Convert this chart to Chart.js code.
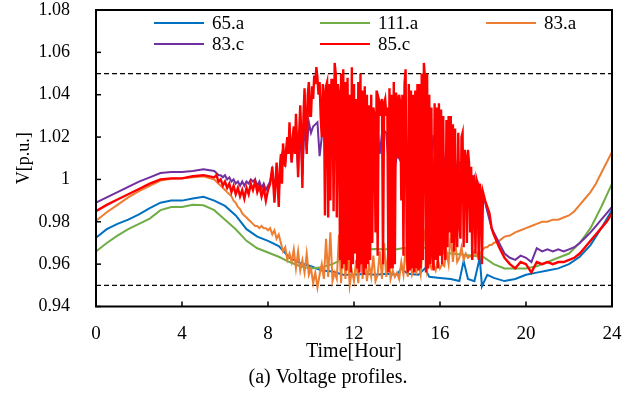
<!DOCTYPE html>
<html>
<head>
<meta charset="utf-8">
<script src="https://cdn.jsdelivr.net/npm/chart.js@4.4.0/dist/chart.umd.min.js"></script>
<style>
  html, body { margin: 0; padding: 0; background: #fff; }
  #wrap { width: 639px; height: 393px; }
</style>
</head>
<body>
<div id="wrap"><canvas id="voltChart" width="639" height="393"></canvas></div>
<script>
// time grids: coarse at night, finer while the PV output fluctuates
function range(start, count, step) {
  return Array.from({ length: count }, (_, i) => +(start + i * step).toFixed(2));
}
const tAll = [...range(0, 11, 0.5), ...range(5.5, 130, 0.1), ...range(18.5, 23, 0.25)];
const tRed = [...range(0, 11, 0.5), ...range(5.5, 30, 0.1), ...range(8.5, 190, 0.05),
  ...range(18.0, 5, 0.1), ...range(18.5, 23, 0.25)];

// bus 85.c (red)
const bus85c = [
  0.985, 0.988, 0.9905, 0.993, 0.9955, 0.998, 1.000, 1.0005, 1.0005, 1.0015, 1.002,
  // 5.5 - 8.4
  1.001, 1.002, 0.999, 1.000, 0.997, 0.999, 0.996, 0.998, 0.994, 0.997,
  0.993, 0.996, 0.992, 0.995, 0.991, 0.996, 0.993, 0.998, 0.995, 0.999,
  0.994, 0.997, 0.992, 0.996, 0.990, 0.995, 0.998, 1.006, 0.989, 1.008,
  // 8.5 - 17.95
  0.987, 1.005, 1.012, 0.998, 1.017, 1.010, 1.006, 1.015, 1.020, 1.012,
  1.027, 1.015, 1.008, 1.020, 1.025, 1.012, 1.031, 1.018, 1.001, 1.022,
  1.035, 1.020, 0.996, 1.030, 1.043, 1.025, 1.012, 1.040, 1.046, 1.030,
  1.030, 1.044, 1.038, 1.049, 1.045, 1.053, 1.048, 1.040, 1.046, 1.030,
  1.020, 1.045, 1.040, 0.983, 1.044, 1.046, 0.982, 1.045, 0.990, 1.047,
  1.047, 0.985, 1.055, 1.050, 0.982, 1.045, 1.040, 0.962, 1.050, 0.958,
  1.052, 0.960, 1.046, 0.957, 1.048, 0.962, 1.040, 0.956, 1.053, 0.960,
  1.045, 0.965, 1.038, 0.958, 1.046, 0.956, 1.050, 0.960, 1.042, 0.955,
  1.044, 0.958, 1.040, 0.960, 1.035, 0.962, 1.040, 0.970, 1.034, 1.030,
  0.975, 1.042, 0.964, 1.038, 1.036, 1.030, 1.038, 0.960, 1.036, 1.038,
  1.030, 1.034, 0.956, 1.043, 0.958, 1.040, 0.958, 1.046, 0.960, 1.041,
  1.038, 1.010, 1.040, 1.036, 0.990, 1.040, 0.964, 1.045, 1.052, 0.970,
  0.956, 1.045, 0.957, 1.042, 0.958, 1.040, 0.956, 1.042, 0.958, 1.045,
  0.957, 1.045, 0.958, 1.050, 0.962, 1.055, 1.048, 0.956, 1.050, 0.958,
  1.040, 0.960, 1.034, 0.966, 0.957, 1.036, 0.962, 1.034, 0.958, 1.036,
  0.964, 1.033, 0.960, 1.030, 0.970, 0.962, 1.028, 0.968, 1.030, 0.975,
  1.030, 0.970, 1.026, 0.966, 1.024, 0.975, 0.968, 1.022, 0.980, 0.972,
  1.020, 1.022, 0.968, 1.014, 1.010, 0.970, 1.014, 1.008, 0.975, 1.006,
  0.962, 1.002, 0.998, 0.965, 1.000, 0.998, 0.962, 0.998, 0.994, 0.960,
  // 18.0 - 18.4
  0.994, 0.990, 0.987, 0.984, 0.977,
  // 18.5 - 24
  0.974, 0.968, 0.963, 0.960, 0.958, 0.961, 0.960, 0.956, 0.961, 0.960, 0.961, 0.960,
  0.961, 0.961, 0.962, 0.963, 0.965, 0.968, 0.971, 0.974, 0.977, 0.980, 0.984
];

// bus 83.c (purple)
const bus83c = [
  0.989, 0.9915, 0.994, 0.9965, 0.999, 1.001, 1.003, 1.0035, 1.0035, 1.004, 1.0048,
  1.004, 1.003, 1.002, 1.002, 1.001, 1.002, 1.000, 1.001, 0.999, 1.000,
  0.998, 0.999, 0.997, 0.999, 0.997, 0.999, 0.998, 1.000, 0.999, 1.000,
  0.997, 0.999, 0.996, 0.998, 0.995, 0.997, 0.999, 1.004, 0.994, 1.006,
  0.993, 1.010, 1.014, 1.008, 1.016, 1.020, 1.008, 1.018, 1.022, 1.004,
  1.024, 1.002, 1.026, 1.014, 1.027, 1.022, 1.025, 1.026, 1.027, 1.011,
  1.020, 1.024, 1.007, 1.022, 1.012, 1.025, 1.026, 1.024, 1.013, 1.026,
  1.027, 1.026, 1.006, 1.025, 1.027, 1.010, 1.026, 1.008, 1.027, 1.012,
  1.026, 1.010, 1.025, 1.014, 1.024, 0.990, 1.023, 1.012, 1.022, 1.023,
  1.022, 1.009, 1.024, 1.023, 1.005, 1.012, 1.010, 1.024, 1.010, 1.025,
  1.004, 0.993, 1.008, 1.023, 1.010, 1.023, 1.008, 1.024, 1.024, 1.010,
  1.022, 1.012, 1.021, 1.006, 1.020, 1.010, 1.018, 1.004, 1.016, 1.006,
  1.013, 1.004, 1.010, 1.002, 1.008, 1.007, 0.998, 1.004, 0.995, 1.002,
  0.994, 1.000, 0.992, 0.997, 0.990, 0.993, 0.989, 0.985, 0.981, 0.977,
  0.975, 0.970, 0.965, 0.963, 0.962, 0.964, 0.963, 0.961, 0.9675, 0.966, 0.967, 0.966,
  0.967, 0.966, 0.967, 0.968, 0.970, 0.9725, 0.975, 0.978, 0.981, 0.984, 0.987
];

// bus 83.a (orange)
const bus83a = [
  0.9805, 0.9845, 0.988, 0.9915, 0.9945, 0.997, 0.9995, 1.0003, 1.0005, 1.001, 1.0015,
  1.000, 0.999, 0.998, 0.997, 0.996, 0.995, 0.994, 0.993, 0.992, 0.990,
  0.989, 0.987, 0.986, 0.984, 0.983, 0.982, 0.981, 0.980, 0.979, 0.978,
  0.978, 0.977, 0.978, 0.977, 0.977, 0.976, 0.977, 0.974, 0.976, 0.972,
  0.974, 0.970, 0.966, 0.968, 0.962, 0.965, 0.961, 0.967, 0.958, 0.966,
  0.957, 0.962, 0.956, 0.965, 0.955, 0.958, 0.951, 0.956, 0.949, 0.955,
  0.960, 0.953, 0.972, 0.954, 0.975, 0.952, 0.956, 0.953, 0.974, 0.951,
  0.975, 0.953, 0.968, 0.950, 0.957, 0.952, 0.962, 0.951, 0.970, 0.953,
  0.966, 0.952, 0.960, 0.954, 0.964, 0.952, 0.955, 0.966, 0.953, 0.970,
  0.954, 0.968, 0.953, 0.957, 0.954, 0.956, 0.953, 0.961, 0.955, 0.968,
  0.954, 0.966, 0.955, 0.958, 0.956, 0.960, 0.955, 0.970, 0.975, 0.957,
  0.962, 0.958, 0.960, 0.957, 0.962, 0.958, 0.960, 0.959, 0.966, 0.960,
  0.975, 0.961, 0.972, 0.961, 0.963, 0.968, 0.962, 0.965, 0.963, 0.964,
  0.963, 0.966, 0.964, 0.966, 0.965, 0.967, 0.968, 0.968, 0.969, 0.969,
  0.970, 0.971, 0.973, 0.9735, 0.975, 0.976, 0.977, 0.978, 0.979, 0.980, 0.980, 0.981,
  0.981, 0.982, 0.983, 0.985, 0.988, 0.991, 0.994, 0.998, 1.003, 1.008, 1.013
];

// bus 65.a (blue)
const hours65a = [0, 0.5, 1, 1.5, 2, 2.5, 3, 3.5, 4, 4.5, 5, 5.5, 6, 6.5, 7, 7.5, 8, 8.5,
  9, 9.5, 10, 10.5, 11, 11.5, 12, 12.5, 13, 13.5, 14, 14.2, 14.5, 15, 15.3, 15.5, 16, 16.5,
  16.9, 17.1, 17.3, 17.6, 17.85, 17.95, 18.2, 18.5, 19, 19.5, 20, 20.5, 21, 21.5, 22, 22.5,
  23, 23.5, 24];
const bus65a = [0.9725, 0.9765, 0.979, 0.981, 0.9835, 0.9865, 0.989, 0.990, 0.990, 0.991,
  0.9918, 0.990, 0.9875, 0.983, 0.9765, 0.973, 0.971, 0.9685, 0.963, 0.9605, 0.959, 0.957,
  0.9565, 0.955, 0.955, 0.9555, 0.955, 0.9555, 0.955, 0.958, 0.9555, 0.955, 0.958, 0.954,
  0.9535, 0.953, 0.952, 0.9615, 0.953, 0.952, 0.963, 0.9495, 0.955, 0.9535, 0.952, 0.953,
  0.955, 0.956, 0.957, 0.958, 0.960, 0.9635, 0.969, 0.977, 0.9855];

// bus 111.a (green)
const hours111a = range(0, 49, 0.5);
const bus111a = [0.966, 0.970, 0.9735, 0.9765, 0.979, 0.9815, 0.9855, 0.987, 0.987, 0.988,
  0.9878, 0.9855, 0.981, 0.9765, 0.971, 0.9675, 0.9655, 0.9635, 0.961, 0.959, 0.958, 0.9585,
  0.960, 0.9625, 0.9655, 0.967, 0.9672, 0.967, 0.967, 0.968, 0.968, 0.9675, 0.9655, 0.965,
  0.9645, 0.964, 0.9635, 0.960, 0.958, 0.958, 0.958, 0.959, 0.961, 0.963, 0.965, 0.970,
  0.977, 0.987, 0.998];

// voltage limits
const limitHours = [0, 24];
const upperLimit = [1.05, 1.05];
const lowerLimit = [0.95, 0.95];

const xTickValues = [0, 4, 8, 12, 16, 20, 24];
const xTickLabels = ['0', '4', '8', '12', '16', '20', '24'];
const yTickValues = [0.94, 0.96, 0.98, 1.00, 1.02, 1.04, 1.06, 1.08];
const yTickLabels = ['0.94', '0.96', '0.98', '1', '1.02', '1.04', '1.06', '1.08'];

const seriesNames = ['65.a', '111.a', '83.a', '83.c', '85.c'];
const seriesColors = ['#0070C0', '#70AD47', '#ED7D31', '#7030A0', '#FF0000'];

const serif = "'Liberation Serif', 'Times New Roman', serif";

function pts(ts, vs) {
  return ts.map((t, i) => ({ x: t, y: vs[i] }));
}

function line(i, data, order, width) {
  return {
    label: seriesNames[i],
    data: data,
    borderColor: seriesColors[i],
    backgroundColor: seriesColors[i],
    borderWidth: width || 2,
    pointRadius: 0,
    tension: 0,
    order: order,
  };
}

function limitLine(vals) {
  return {
    label: '',
    data: pts(limitHours, vals),
    borderColor: '#000',
    borderWidth: 1.3,
    borderDash: [5, 3],
    pointRadius: 0,
    order: 6,
  };
}

// box, inward ticks, legend inside the plot and the caption
const framePlugin = {
  id: 'frame',
  afterDatasetsDraw(chart) {
    const { ctx, chartArea: a, scales: { x, y } } = chart;
    ctx.save();
    ctx.strokeStyle = '#000';
    ctx.lineWidth = 1.5;
    x.ticks.forEach((t) => {
      const px = x.getPixelForValue(t.value);
      ctx.beginPath();
      ctx.moveTo(px, a.bottom);
      ctx.lineTo(px, a.bottom - 5);
      ctx.stroke();
    });
    y.ticks.forEach((t) => {
      const py = y.getPixelForValue(t.value);
      ctx.beginPath();
      ctx.moveTo(a.left, py);
      ctx.lineTo(a.left + 5, py);
      ctx.stroke();
    });
    ctx.lineWidth = 2;
    ctx.strokeRect(a.left, a.top, a.right - a.left, a.bottom - a.top);

    // legend, 3 columns
    ctx.font = '19px ' + serif;
    ctx.textBaseline = 'middle';
    ctx.textAlign = 'left';
    seriesNames.forEach((name, i) => {
      const col = i % 3;
      const row = Math.floor(i / 3);
      const lx = a.left + 58 + col * 166;
      const ly = a.top + 13 + row * 21;
      ctx.strokeStyle = seriesColors[i];
      ctx.lineWidth = 2;
      ctx.beginPath();
      ctx.moveTo(lx, ly);
      ctx.lineTo(lx + 50, ly);
      ctx.stroke();
      ctx.fillStyle = '#000';
      ctx.fillText(name, lx + 58, ly + 1);
    });

    ctx.font = '20px ' + serif;
    ctx.textAlign = 'center';
    ctx.fillText('(a) Voltage profiles.', 328, 378);
    ctx.restore();
  },
};

const ctx = document.getElementById('voltChart');
const voltChart = new Chart(ctx, {
  type: 'line',
  data: {
    datasets: [
      line(0, pts(hours65a, bus65a), 4),
      line(1, pts(hours111a, bus111a), 3),
      line(2, pts(tAll, bus83a), 2),
      line(3, pts(tAll, bus83c), 1),
      line(4, pts(tRed, bus85c), 0, 2.4),
      limitLine(upperLimit),
      limitLine(lowerLimit),
    ],
  },
  options: {
    responsive: false,
    devicePixelRatio: 1,
    animation: false,
    layout: { padding: { top: 10, right: 27, bottom: 28, left: 0 } },
    plugins: {
      legend: { display: false },
      tooltip: { enabled: false },
    },
    scales: {
      x: {
        type: 'linear',
        min: 0,
        max: 24,
        grid: { display: false },
        border: { display: false },
        afterFit(scale) { scale.height = 58.5; },
        afterBuildTicks(scale) { scale.ticks = xTickValues.map((v) => ({ value: v })); },
        ticks: {
          padding: 10,
          color: '#000',
          font: { family: serif, size: 19, lineHeight: 1 },
          maxRotation: 0,
          callback: (v, i) => xTickLabels[i],
        },
        title: {
          display: true,
          text: 'Time[Hour]',
          color: '#000',
          font: { family: serif, size: 20, lineHeight: 1.2 },
          padding: { top: 0, bottom: 1 },
        },
      },
      y: {
        min: 0.94,
        max: 1.08,
        grid: { display: false },
        border: { display: false },
        afterFit(scale) {
          scale.width = 96;
          scale.paddingTop = 0;
          scale.paddingBottom = 0;
        },
        afterBuildTicks(scale) { scale.ticks = yTickValues.map((v) => ({ value: v })); },
        ticks: {
          padding: 18,
          color: '#000',
          font: { family: serif, size: 18, lineHeight: 1 },
          callback: (v, i) => yTickLabels[i],
        },
        title: {
          display: true,
          text: 'V[p.u.]',
          color: '#000',
          font: { family: serif, size: 18, lineHeight: 1.2 },
          padding: { top: 13, bottom: 0 },
        },
      },
    },
  },
  plugins: [framePlugin],
});
</script>
</body>
</html>
